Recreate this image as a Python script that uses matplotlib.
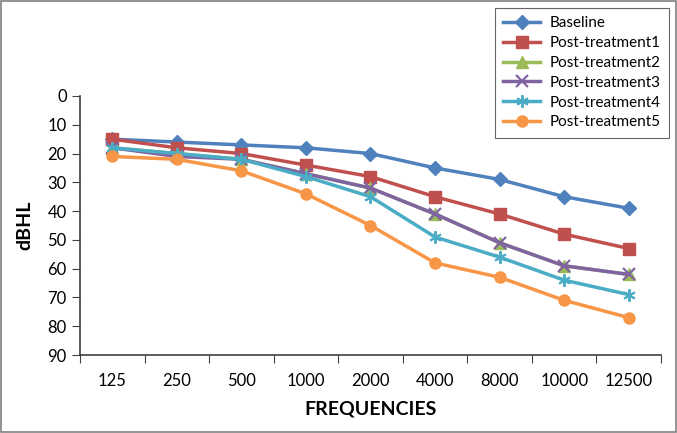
import matplotlib
matplotlib.use("Agg")
import matplotlib.pyplot as plt
from matplotlib.patches import Rectangle

categories = ["125", "250", "500", "1000", "2000", "4000", "8000", "10000", "12500"]
baseline = [15, 16, 17, 18, 20, 25, 29, 35, 39]
post1 = [15, 18, 20, 24, 28, 35, 41, 48, 53]
post2 = [18, 20, 22, 27, 32, 41, 51, 59, 62]
post3 = [18, 21, 22, 27, 32, 41, 51, 59, 62]
post4 = [18, 20, 22, 28, 35, 49, 56, 64, 69]
post5 = [21, 22, 26, 34, 45, 58, 63, 71, 77]
series_names = ["Baseline", "Post-treatment1", "Post-treatment2",
                "Post-treatment3", "Post-treatment4", "Post-treatment5"]
y_ticks = [0, 10, 20, 30, 40, 50, 60, 70, 80, 90]

plt.rcParams['font.family'] = ['Lato', 'DejaVu Sans']

fig = plt.figure(figsize=(6.77, 4.33), dpi=100)
ax = fig.add_axes([80/677, 1-355/433, (661-80)/677, (355-96)/433])

styles = [
    dict(color="#4F81BD", marker="D", ms=7),
    dict(color="#C0504D", marker="s", ms=8),
    dict(color="#9BBB59", marker="^", ms=8),
    dict(color="#8064A2", marker="x", ms=8, mew=1.6),
    dict(color="#4BACC6", marker=(6, 2, 0), ms=9, mew=1.4),
    dict(color="#F79646", marker="o", ms=8),
]
x = list(range(len(categories)))
for vals, name, st in zip([baseline, post1, post2, post3, post4, post5], series_names, styles):
    ax.plot(x, vals, lw=2.5, label=name, **st)

ax.set_xlim(-0.5, len(categories) - 0.5)
ax.set_ylim(90, 0)
ax.set_yticks(y_ticks)
ax.set_yticklabels([str(v) for v in y_ticks], fontsize=12)
ax.set_xticks([i - 0.5 for i in range(len(categories) + 1)])
ax.set_xticklabels([])
ax.set_xticks(x, minor=True)
ax.set_xticklabels(categories, minor=True, fontsize=12)
ax.tick_params(axis='x', which='minor', length=0, pad=13)
ax.tick_params(axis='x', which='major', length=6, direction='out', color='#404040')
ax.tick_params(axis='y', length=6, color='#404040')
for s in ['top', 'right']:
    ax.spines[s].set_visible(False)
for s in ['left', 'bottom']:
    ax.spines[s].set_color('#404040')
    ax.spines[s].set_linewidth(1.2)

ax.set_xlabel("FREQUENCIES", fontsize=14, fontweight='bold', labelpad=8)
ax.set_ylabel("dBHL", fontsize=14, fontweight='bold', labelpad=10)

leg = fig.legend(loc='upper left', bbox_to_anchor=(495/677, 1-8/433), fontsize=11,
                 frameon=True, fancybox=False, edgecolor='#404040',
                 handlelength=2.4, handletextpad=0.6, labelspacing=0.38, borderpad=0.55,
                 borderaxespad=0)
leg.get_frame().set_linewidth(0.8)

fig.patches.append(Rectangle((0.002, 0.003), 0.996, 0.994, transform=fig.transFigure,
                             fill=False, edgecolor='#808080', lw=1.2))

fig.savefig("out.png", dpi=100)
